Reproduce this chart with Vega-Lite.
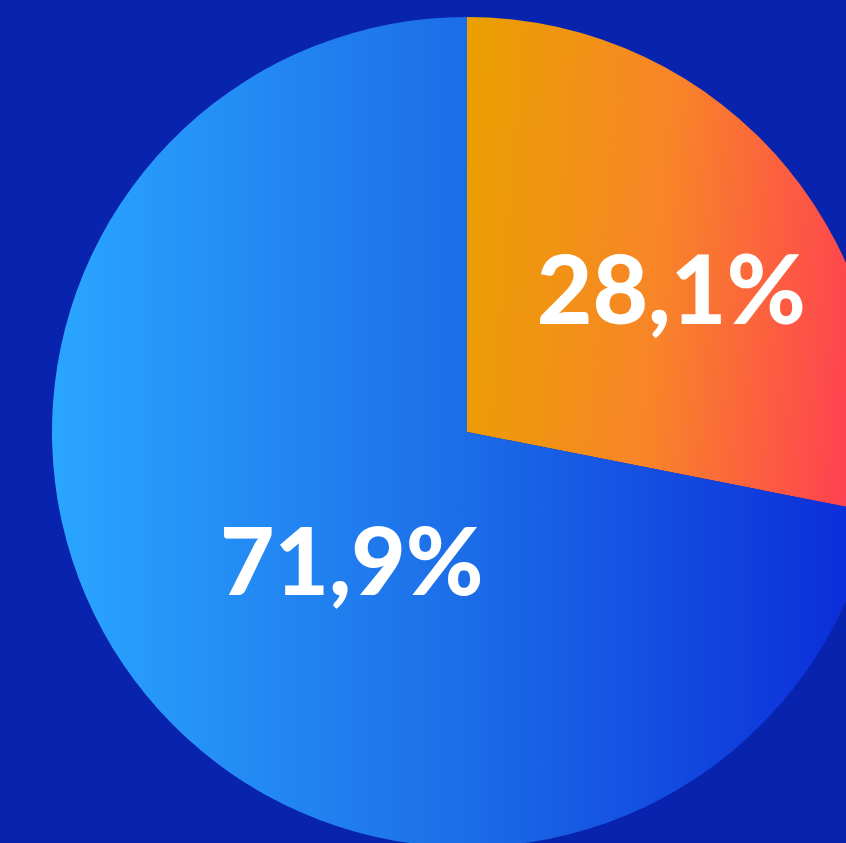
{
  "$schema": "https://vega.github.io/schema/vega-lite/v6.json",
  "autosize": {"type": "none"},
  "padding": 0,
  "width": 934,
  "height": 864,
  "background": "#0823ad",
  "config": {"view": {"stroke": null}},
  "data": {"values": [
    {"segment": "A", "share": 28.1, "label": "28,1%"},
    {"segment": "B", "share": 71.9, "label": "71,9%"}
  ]},
  "transform": [
    {"stack": "share", "groupby": [], "sort": [{"field": "segment", "order": "ascending"}], "as": ["s0", "s1"]}
  ],
  "layer": [
    {
      "transform": [{"filter": "datum.segment === 'A'"}],
      "mark": {"type": "arc", "radius": 415, "fill": {"gradient": "linear", "x1": 0, "y1": 0.1, "x2": 1, "y2": 0.2, "stops": [{"offset": 0, "color": "#eaa000"}, {"offset": 0.5, "color": "#f88528"}, {"offset": 1, "color": "#ff4052"}]}},
      "encoding": {
        "theta": {"field": "s0", "type": "quantitative", "scale": {"domain": [0, 100]}},
        "theta2": {"field": "s1"}
      }
    },
    {
      "transform": [{"filter": "datum.segment === 'B'"}],
      "mark": {"type": "arc", "radius": 415, "fill": {"gradient": "linear", "x1": 0, "y1": 0, "x2": 1, "y2": 0, "stops": [{"offset": 0, "color": "#2aa6ff"}, {"offset": 0.5, "color": "#1c6de8"}, {"offset": 1, "color": "#0a2ad8"}]}},
      "encoding": {
        "theta": {"field": "s0", "type": "quantitative", "scale": {"domain": [0, 100]}},
        "theta2": {"field": "s1"}
      }
    },
    {
      "mark": {"type": "text", "radius": 245, "dx": 15, "dy": 19, "align": "center", "baseline": "middle", "font": "Lato", "fontWeight": 900, "fontSize": 96, "color": "white"},
      "encoding": {
        "theta": {"field": "share", "type": "quantitative", "stack": true, "sort": null},
        "order": {"field": "segment", "type": "nominal"},
        "text": {"condition": {"test": "datum.segment === 'A'", "field": "label"}, "value": ""}
      }
    },
    {
      "mark": {"type": "text", "radius": 179, "dx": 23, "dy": 21, "align": "center", "baseline": "middle", "font": "Lato", "fontWeight": 900, "fontSize": 94, "color": "white"},
      "encoding": {
        "theta": {"field": "share", "type": "quantitative", "stack": true, "sort": null},
        "order": {"field": "segment", "type": "nominal"},
        "text": {"condition": {"test": "datum.segment === 'B'", "field": "label"}, "value": ""}
      }
    }
  ]
}
